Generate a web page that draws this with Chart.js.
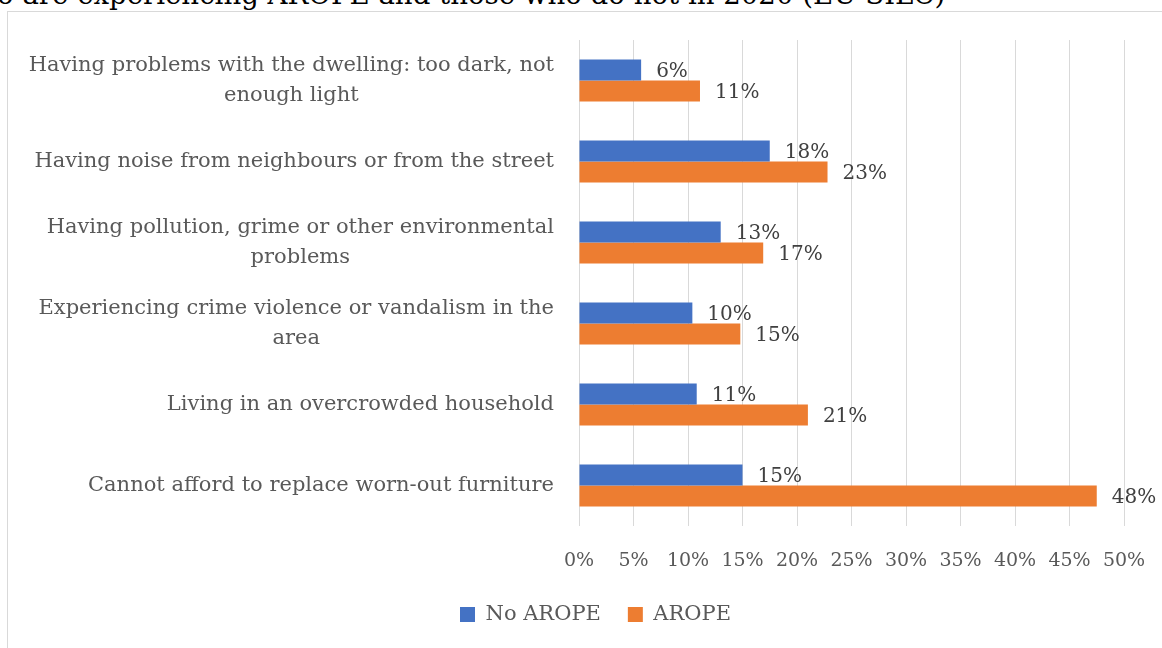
<!DOCTYPE html>
<html lang="en">
<head>
<meta charset="UTF-8">
<title>AROPE and housing problems</title>
<script src="https://cdn.jsdelivr.net/npm/chart.js"></script>
<style>
    body {
        margin: 0;
        width: 1162px;
        height: 648px;
        overflow: hidden;
        background: white;
        position: relative;
        font-family: 'DejaVu Serif', serif;
    }
    .title {
        position: absolute;
        left: -3px;
        top: -19px;
        font-size: 27.6px;
        line-height: 28px;
        color: #000;
        white-space: nowrap;
    }
    .frame {
        position: absolute;
        left: 7px;
        top: 11px;
        width: 1200px;
        height: 700px;
        border: 1px solid #d9d9d9;
    }
    .chart-box { position: absolute; left: 0; top: 0; width: 1162px; height: 648px; }
</style>
</head>
<body>
<div class="title">o are experiencing AROPE and those who do not in 2020 (EU-SILC)</div>
<div class="frame"></div>
<div class="chart-box"><canvas id="aropeChart"></canvas></div>
<script>
    // categories, top to bottom
    const categories = [
        ['Having problems with the dwelling: too dark, not', 'enough light'],
        ['Having noise from neighbours or from the street'],
        ['Having pollution, grime or other environmental', 'problems'],
        ['Experiencing crime violence or vandalism in the', 'area'],
        ['Living in an overcrowded household'],
        ['Cannot afford to replace worn-out furniture']
    ];
    const noArope = [5.7, 17.5, 13.0, 10.4, 10.8, 15.0];
    const arope = [11.1, 22.8, 16.9, 14.8, 21.0, 47.5];
    const xMin = 0, xMax = 50, xStep = 5;

    const textGrey = '#595959';
    const fontFamily = "'DejaVu Serif', serif";
    const padLeft = 67;

    // draws the wrapped category labels: block right aligned, lines centred
    const categoryLabels = {
        id: 'categoryLabels',
        afterDraw(chart) {
            const ctx = chart.ctx;
            const yScale = chart.scales.y;
            const right = yScale.right - 25;
            const lineH = 30;
            ctx.save();
            ctx.font = '21px ' + fontFamily;
            ctx.fillStyle = textGrey;
            ctx.textAlign = 'center';
            ctx.textBaseline = 'middle';
            chart.data.labels.forEach((lines, i) => {
                const y = yScale.getPixelForValue(i);
                const w = Math.max(...lines.map(l => ctx.measureText(l).width));
                const cx = right - w / 2;
                let top = y - (lines.length - 1) * lineH / 2;
                lines.forEach((l, k) => ctx.fillText(l, cx, top + k * lineH));
            });
            ctx.restore();
        }
    };

    // value labels at the end of each bar
    const valueLabels = {
        id: 'valueLabels',
        afterDatasetsDraw(chart) {
            const ctx = chart.ctx;
            ctx.save();
            ctx.font = '20px ' + fontFamily;
            ctx.fillStyle = '#404040';
            ctx.textAlign = 'left';
            ctx.textBaseline = 'middle';
            chart.data.datasets.forEach((ds, d) => {
                chart.getDatasetMeta(d).data.forEach((bar, i) => {
                    ctx.fillText(Math.round(ds.data[i]) + '%', bar.x + 15, bar.y + 2);
                });
            });
            ctx.restore();
        }
    };

    new Chart(document.getElementById('aropeChart'), {
        type: 'bar',
        data: {
            labels: categories,
            datasets: [
                { label: 'No AROPE', data: noArope, backgroundColor: '#4472C4' },
                { label: 'AROPE', data: arope, backgroundColor: '#ED7D31' }
            ]
        },
        options: {
            indexAxis: 'y',
            responsive: true,
            maintainAspectRatio: false,
            animation: false,
            layout: { padding: { left: padLeft, right: 38, top: 40, bottom: 13 } },
            datasets: { bar: { categoryPercentage: 0.52, barPercentage: 1 } },
            scales: {
                x: {
                    min: xMin,
                    max: xMax,
                    border: { display: false },
                    grid: { color: '#d9d9d9', lineWidth: 1, drawTicks: false },
                    ticks: {
                        stepSize: xStep,
                        padding: 24,
                        color: textGrey,
                        font: { family: fontFamily, size: 19 },
                        callback: v => v + '%'
                    },
                    afterFit(scale) {
                        scale.height = 51;
                        scale.paddingLeft = 0;
                        scale.paddingRight = 0;
                    }
                },
                y: {
                    border: { display: false },
                    grid: { display: false },
                    ticks: { display: false },
                    afterFit(scale) { scale.width = 579 - padLeft; }
                }
            },
            plugins: {
                tooltip: { enabled: false },
                legend: {
                    position: 'bottom',
                    labels: {
                        boxWidth: 15,
                        boxHeight: 15,
                        padding: 27,
                        color: textGrey,
                        font: { family: fontFamily, size: 21 }
                    }
                }
            }
        },
        plugins: [categoryLabels, valueLabels]
    });
</script>
</body>
</html>
